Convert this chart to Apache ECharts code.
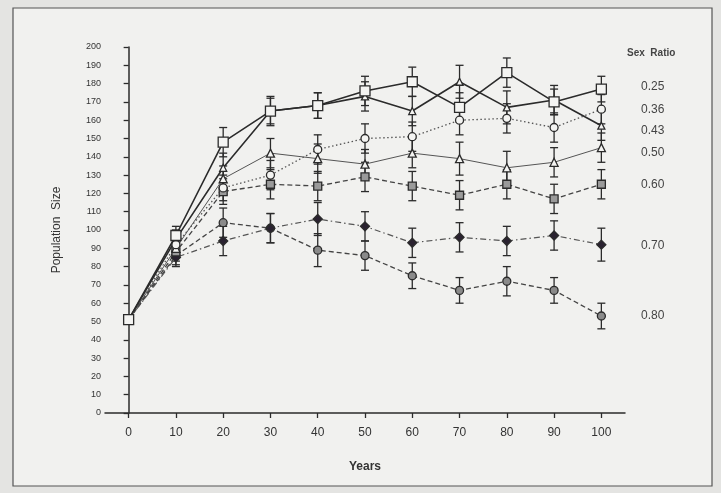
<!DOCTYPE html>
<html>
<head>
<meta charset="utf-8">
<script src="https://cdn.jsdelivr.net/npm/echarts@6/dist/echarts.min.js"></script>
<style>
html, body { margin: 0; padding: 0; background: #e4e4e2; }
#chart { width: 721px; height: 493px; }
</style>
</head>
<body>
<div id="chart"></div>
<script>
// years and sex ratio series
var years = [0, 10, 20, 30, 40, 50, 60, 70, 80, 90, 100];
var ratios = ['0.25', '0.36', '0.43', '0.50', '0.60', '0.70', '0.80'];

var pop025 = [51, 97, 148, 165, 168, 176, 181, 167, 186, 170, 177];
var pop036 = [51, 92, 123, 130, 144, 150, 151, 160, 161, 156, 166];
var pop043 = [51, 95, 134, 165, 168, 173, 165, 181, 167, 171, 157];
var pop050 = [51, 90, 128, 142, 139, 136, 142, 139, 134, 137, 145];
var pop060 = [51, 88, 121, 125, 124, 129, 124, 119, 125, 117, 125];
var pop070 = [51, 85, 94, 101, 106, 102, 93, 96, 94, 97, 92];
var pop080 = [51, 86, 104, 101, 89, 86, 75, 67, 72, 67, 53];

// error bar half widths
var err025 = [0, 5, 8, 8, 7, 8, 8, 8, 8, 7, 7];
var err036 = [0, 5, 7, 8, 8, 8, 8, 8, 8, 8, 8];
var err043 = [0, 5, 8, 7, 7, 8, 8, 9, 9, 8, 8];
var err050 = [0, 5, 7, 8, 8, 8, 8, 9, 9, 8, 8];
var err060 = [0, 5, 7, 8, 8, 8, 8, 8, 8, 8, 8];
var err070 = [0, 5, 8, 8, 9, 8, 8, 8, 8, 8, 9];
var err080 = [0, 5, 8, 8, 9, 8, 7, 7, 8, 7, 7];

var yTicks = [0, 10, 20, 30, 40, 50, 60, 70, 80, 90, 100, 110, 120, 130, 140, 150, 160, 170, 180, 190, 200];

var ink = '#2b2b2b';
var styles = [
    { sym: 'rect', size: 10, fill: '#f4f4f2', line: 'solid', width: 1.6, color: ink },
    { sym: 'circle', size: 8, fill: '#f4f4f2', line: [1.5, 2.5], width: 1.3, color: '#555' },
    { sym: 'triangle', size: 7, fill: '#f4f4f2', line: 'solid', width: 1.6, color: ink },
    { sym: 'triangle', size: 8, fill: '#f4f4f2', line: 'solid', width: 1, color: '#555' },
    { sym: 'rect', size: 8, fill: '#9a9a9a', line: [5, 3], width: 1.3, color: '#444' },
    { sym: 'diamond', size: 9, fill: '#2a2230', line: [6, 3, 1.5, 3], width: 1.2, color: '#555' },
    { sym: 'circle', size: 8, fill: '#8a8a8a', line: [5, 3], width: 1.3, color: '#444' }
];
var pops = [pop025, pop036, pop043, pop050, pop060, pop070, pop080];
var errs = [err025, err036, err043, err050, err060, err070, err080];

var series = [];
for (var i = pops.length - 1; i >= 0; i--) {
    var st = styles[i];
    var pts = years.map(function (x, k) { return [x, pops[i][k]]; });
    var bars = years.map(function (x, k) { return [x, pops[i][k] - errs[i][k], pops[i][k] + errs[i][k]]; })
        .filter(function (d) { return d[2] > d[1]; });
    series.push({
        type: 'custom',
        name: ratios[i] + ' err',
        z: 3,
        renderItem: function (params, api) {
            var lo = api.coord([api.value(0), api.value(1)]);
            var hi = api.coord([api.value(0), api.value(2)]);
            var w = 4;
            return {
                type: 'group',
                children: [
                    { type: 'line', shape: { x1: lo[0], y1: lo[1], x2: hi[0], y2: hi[1] }, style: { stroke: ink, lineWidth: 1.3 } },
                    { type: 'line', shape: { x1: lo[0] - w, y1: lo[1], x2: lo[0] + w, y2: lo[1] }, style: { stroke: ink, lineWidth: 1.3 } },
                    { type: 'line', shape: { x1: hi[0] - w, y1: hi[1], x2: hi[0] + w, y2: hi[1] }, style: { stroke: ink, lineWidth: 1.3 } }
                ]
            };
        },
        encode: { x: 0, y: [1, 2] },
        data: bars
    });
    series.push({
        type: 'line',
        name: ratios[i],
        z: 4,
        symbol: st.sym,
        symbolSize: st.size,
        showAllSymbol: true,
        lineStyle: { color: st.color, width: st.width, type: st.line },
        itemStyle: { color: st.fill, borderColor: ink, borderWidth: 1.3 },
        emphasis: { disabled: true },
        data: pts
    });
}

// right side legend texts
var labelY = [87, 110, 131, 153, 185, 246, 316];
var graphics = [
    { type: 'rect', shape: { x: 13, y: 8, width: 699, height: 478 }, style: { fill: '#f1f1ef', stroke: '#555', lineWidth: 1.2 }, z: -10 },
    { type: 'text', left: 627, top: 48, style: { text: 'Sex  Ratio', font: 'bold 10px "Liberation Sans", Arial, sans-serif', fill: '#444' } }
];
ratios.forEach(function (r, k) {
    graphics.push({ type: 'text', left: 641, top: labelY[k] - 6, style: { text: r, font: '12px "Liberation Sans", Arial, sans-serif', fill: '#444' } });
});

var option = {
    backgroundColor: '#e4e4e2',
    animation: false,
    graphic: graphics,
    grid: { left: 105, right: 96, top: 47, bottom: 80 },
    xAxis: {
        type: 'value',
        min: -5,
        max: 105,
        name: 'Years',
        nameLocation: 'middle',
        nameGap: 48,
        nameTextStyle: { color: '#333', fontSize: 12, fontWeight: 'bold', fontFamily: 'Liberation Sans' },
        splitLine: { show: false },
        axisLine: { lineStyle: { color: ink, width: 1.5 } },
        axisTick: { show: true, length: 5, customValues: years, lineStyle: { color: ink, width: 1.3 } },
        axisLabel: { customValues: years, margin: 14, color: '#333', fontSize: 12, fontFamily: 'Liberation Sans' }
    },
    yAxis: {
        type: 'value',
        min: 0,
        max: 200,
        interval: 10,
        name: 'Population  Size',
        nameLocation: 'middle',
        nameGap: 42,
        nameTextStyle: { color: '#333', fontSize: 12, fontFamily: 'Liberation Sans' },
        splitLine: { show: false },
        axisLine: { show: true, lineStyle: { color: ink, width: 1.5 } },
        axisTick: { show: true, length: 5, lineStyle: { color: ink, width: 1.3 } },
        axisLabel: { customValues: yTicks, margin: 4, color: '#333', fontSize: 9, fontFamily: 'Liberation Sans Narrow, Liberation Sans' }
    },
    series: series
};

var chart = echarts.init(document.getElementById('chart'));
chart.setOption(option);
</script>
</body>
</html>
